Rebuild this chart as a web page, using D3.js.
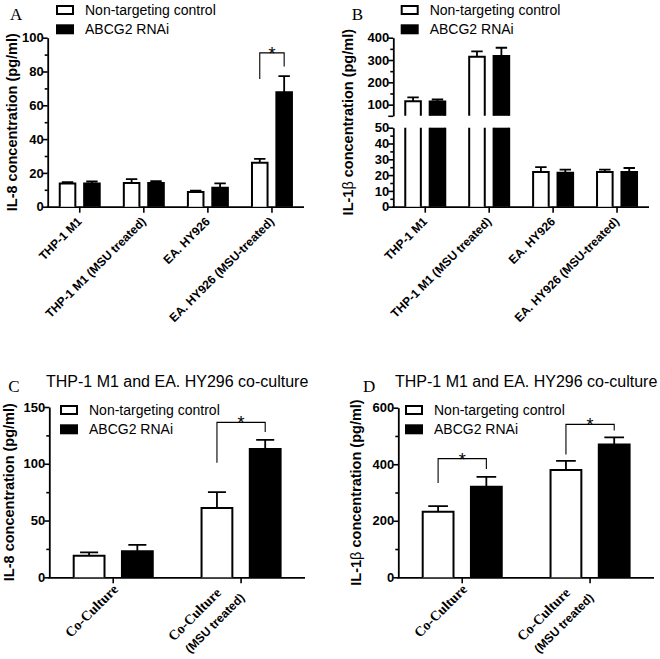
<!DOCTYPE html>
<html>
<head>
<meta charset="utf-8">
<script src="https://cdn.jsdelivr.net/npm/d3@7"></script>
<style>
  body { margin: 0; background: #fff; }
  svg { display: block; }
</style>
</head>
<body>
<svg id="chart" width="660" height="659"></svg>
<script>
// ---- data ----
const seriesNames = ['Non-targeting control', 'ABCG2 RNAi'];

// panel A : IL-8, single cultures
const catsAB = ['THP-1 M1', 'THP-1 M1 (MSU treated)', 'EA. HY926', 'EA. HY926 (MSU-treated)'];
const il8Ctrl = [13.8, 14, 8.7, 26];
const il8CtrlErr = [0.8, 2.3, 0.8, 2.3];
const il8Rnai = [13.8, 14, 11.2, 67.7];
const il8RnaiErr = [1.1, 1.1, 2.6, 9.6];
const sigA = [{cat: 3, top: 91, left: 75.5, right: 83}];

// panel B : IL-1b, single cultures (broken axis)
const il1Ctrl = [115, 315, 22, 22];
const il1CtrlErr = [18, 24, 3, 1.5];
const il1Rnai = [114, 318, 21.5, 22];
const il1RnaiErr = [9, 37, 2, 2.5];

// panels C / D : co-culture
const catsCD = [['Co-Culture'], ['Co-Culture', '(MSU treated)']];
const coIl8Ctrl = [19, 61];
const coIl8CtrlErr = [3, 14];
const coIl8Rnai = [23, 113];
const coIl8RnaiErr = [5.5, 8];
const sigC = [{cat: 1, top: 136.5, left: 101, right: 128}];

const coIl1Ctrl = [232, 380];
const coIl1CtrlErr = [20, 32];
const coIl1Rnai = [320, 470];
const coIl1RnaiErr = [35, 25];
const sigD = [{cat: 0, top: 420, left: 334, right: 383}, {cat: 1, top: 541, left: 434, right: 519}];

const coTitle = 'THP-1 M1 and EA. HY296 co-culture';

// ---- drawing ----
const SANS = '"Liberation Sans", Arial, sans-serif';
const SERIF = '"Liberation Serif", "Times New Roman", serif';
const svg = d3.select('#chart');

function drawPanel(p) {
  const g = svg.append('g');
  const labels = p.cats.map(c => Array.isArray(c) ? c.join(' ') : c);
  const x = d3.scaleBand().domain(labels).range([p.left, p.right])
    .paddingInner(p.pad).paddingOuter(p.pad / 2);
  const sub = d3.scaleBand().domain(['ctrl', 'rnai']).range([0, x.bandwidth()]).paddingInner(p.subPad);
  const bw = sub.bandwidth();

  // y segments (more than one when the axis is broken)
  const segs = p.segs.map(s => Object.assign({}, s, {
    y: d3.scaleLinear().domain(s.domain).range(s.range)
  }));
  const segFor = v => segs.find(s => v <= s.domain[1]) || segs[segs.length - 1];

  segs.forEach(s => {
    g.append('g').attr('transform', `translate(${p.left},0)`)
      .call(d3.axisLeft(s.y).tickValues(s.minor).tickSize(3).tickSizeOuter(0).tickFormat(''))
      .call(a => a.select('.domain').remove());
    const ax = g.append('g').attr('transform', `translate(${p.left},0)`)
      .call(d3.axisLeft(s.y).tickValues(s.major).tickSize(5).tickSizeOuter(0).tickPadding(-1)
        .tickFormat(d => s.hide && s.hide.includes(d) ? '' : d));
    ax.selectAll('text').style('font', `bold 13px ${SANS}`).attr('fill', '#000');
  });
  g.selectAll('.tick line').attr('stroke', '#000').attr('stroke-width', 1.6);
  g.selectAll('.domain').attr('stroke', '#000').attr('stroke-width', 1.8);

  const y0 = segs[0].range[0];
  // x axis
  const xa = g.append('g').attr('transform', `translate(0,${y0})`)
    .call(d3.axisBottom(x).tickSize(6).tickSizeOuter(0).tickFormat(''));
  xa.select('.domain').attr('stroke', '#000').attr('stroke-width', 1.8)
    .attr('d', `M${p.left - 1},0.5H${p.right}`);
  xa.selectAll('.tick line').attr('stroke', '#000').attr('stroke-width', 1.6);

  // category labels, rotated 45 degrees
  p.cats.forEach((c, i) => {
    const lines = Array.isArray(c) ? c : [c];
    const offs = p.labelOffsets[lines.length - 1];
    const lg = g.append('g')
      .attr('transform', `translate(${x(labels[i]) + x.bandwidth() / 2},${y0}) rotate(-45)`);
    lines.forEach((t, j) => {
      lg.append('text').attr('x', offs[j][0]).attr('y', offs[j][1])
        .attr('text-anchor', 'end')
        .style('font', p.labelFont(j, lines.length))
        .text(t);
    });
  });

  // bars
  const series = [
    {key: 'ctrl', vals: p.ctrl, errs: p.ctrlErr, fill: '#fff'},
    {key: 'rnai', vals: p.rnai, errs: p.rnaiErr, fill: '#000'}
  ];
  series.forEach(s => {
    s.vals.forEach((v, i) => {
      const bx = x(labels[i]) + sub(s.key);
      const x0 = bx + 1, x1 = bx + bw - 1;
      segs.forEach(seg => {
        if (v <= seg.domain[0]) return;
        const top = Math.min(v, seg.domain[1]);
        const yb = seg.y(seg.domain[0]), yt = seg.y(top);
        g.append('rect').attr('x', x0).attr('y', yt).attr('width', x1 - x0).attr('height', yb - yt)
          .attr('fill', s.fill);
        const closed = v <= seg.domain[1];
        const d = closed ? `M${x0},${yb}V${yt}H${x1}V${yb}` : `M${x0},${yb}V${yt}M${x1},${yt}V${yb}`;
        g.append('path').attr('d', d).attr('fill', 'none').attr('stroke', '#000').attr('stroke-width', 2);
      });
      // error bar, upward only
      const e = s.errs[i];
      const seg = segFor(v);
      const cx = bx + bw / 2, cap = bw * p.capRatio;
      g.append('path')
        .attr('d', `M${cx},${seg.y(v)}V${seg.y(v + e)}M${cx - cap / 2},${seg.y(v + e)}H${cx + cap / 2}`)
        .attr('fill', 'none').attr('stroke', '#000').attr('stroke-width', 1.8);
    });
  });

  // significance brackets
  (p.sig || []).forEach(b => {
    const xl = x(labels[b.cat]) + sub('ctrl') + bw / 2;
    const xr = x(labels[b.cat]) + sub('rnai') + bw / 2;
    const s = segFor(b.top);
    g.append('path')
      .attr('d', `M${xl},${s.y(b.left)}V${s.y(b.top)}H${xr}V${s.y(b.right)}`)
      .attr('fill', 'none').attr('stroke', '#000').attr('stroke-width', 1.1);
    g.append('text').attr('x', (xl + xr) / 2).attr('y', s.y(b.top) + 7)
      .attr('text-anchor', 'middle').style('font', `18px ${SANS}`).text('*');
  });

  // legend
  seriesNames.forEach((n, i) => {
    const ly = p.legend[1] + i * 19.3;
    g.append('rect').attr('x', p.legend[0] + 1).attr('y', ly + 1).attr('width', 16).attr('height', 8)
      .attr('fill', i ? '#000' : '#fff').attr('stroke', '#000').attr('stroke-width', 2);
    g.append('text').attr('x', p.legend[0] + 29).attr('y', ly + 10)
      .style('font', `14px ${SANS}`).text(n);
  });

  // y label
  const yMid = (segs[0].range[0] + segs[segs.length - 1].range[1]) / 2;
  const yl = g.append('text')
    .attr('transform', `translate(${p.yLabelX},${yMid}) rotate(-90)`)
    .attr('text-anchor', 'middle').style('font', `bold 14.5px ${SANS}`);
  if (p.beta) {
    yl.append('tspan').text('IL-1');
    yl.append('tspan').style('font-weight', 'normal').text('\u03b2');
    yl.append('tspan').text(' concentration (pg/ml)');
  } else {
    yl.text('IL-8 concentration (pg/ml)');
  }

  // panel letter and title
  g.append('text').attr('x', p.letter[1]).attr('y', p.letter[2])
    .style('font', `17px ${SERIF}`).text(p.letter[0]);
  if (p.title) {
    g.append('text').attr('x', (p.left + p.right) / 2).attr('y', p.titleY)
      .attr('text-anchor', 'middle').style('font', `16px ${SANS}`).text(p.title);
  }
}

const fontAB = () => `bold 12px ${SANS}`;
const fontCD = (j, n) => (n > 1 && j === 1) ? `bold 12px ${SANS}` : `bold 14px ${SERIF}`;

drawPanel({
  cats: catsAB, ctrl: il8Ctrl, ctrlErr: il8CtrlErr, rnai: il8Rnai, rnaiErr: il8RnaiErr, sig: sigA,
  left: 47.7, right: 304, pad: 0.345, subPad: 0.28, capRatio: 0.65,
  segs: [{domain: [0, 100], range: [206.7, 37.7], major: d3.range(0, 101, 20), minor: d3.range(10, 100, 20)}],
  labelOffsets: [[[-9, 13]]], labelFont: fontAB,
  legend: [56, 5], yLabelX: 17, letter: ['A', 10, 19.5]
});

drawPanel({
  cats: catsAB, ctrl: il1Ctrl, ctrlErr: il1CtrlErr, rnai: il1Rnai, rnaiErr: il1RnaiErr, beta: true,
  left: 393.3, right: 649, pad: 0.343, subPad: 0.28, capRatio: 0.65,
  segs: [
    {domain: [0, 50], range: [206.7, 127.7], major: d3.range(0, 51, 10), minor: d3.range(5, 50, 10)},
    {domain: [50, 400], range: [115.8, 37.7], major: [50, 100, 200, 300, 400], minor: [150, 250, 350], hide: [50]}
  ],
  labelOffsets: [[[-9, 13]]], labelFont: fontAB,
  legend: [400.7, 5], yLabelX: 353, letter: ['B', 351.7, 19.5]
});

drawPanel({
  cats: catsCD, ctrl: coIl8Ctrl, ctrlErr: coIl8CtrlErr, rnai: coIl8Rnai, rnaiErr: coIl8RnaiErr, sig: sigC,
  left: 49.3, right: 305, pad: 0.366, subPad: 0.32, capRatio: 0.55,
  segs: [{domain: [0, 150], range: [577.3, 407], major: [0, 50, 100, 150], minor: [25, 75, 125]}],
  labelOffsets: [[[-5, 13]], [[-25, -2], [-12, 18]]], labelFont: fontCD,
  legend: [60, 405], yLabelX: 14, letter: ['C', 8.3, 392], title: coTitle, titleY: 386.7
});

drawPanel({
  cats: catsCD, ctrl: coIl1Ctrl, ctrlErr: coIl1CtrlErr, rnai: coIl1Rnai, rnaiErr: coIl1RnaiErr, sig: sigD, beta: true,
  left: 398.3, right: 654, pad: 0.366, subPad: 0.32, capRatio: 0.6,
  segs: [{domain: [0, 600], range: [577.3, 407.7], major: [0, 200, 400, 600], minor: [100, 300, 500]}],
  labelOffsets: [[[-5, 13]], [[-25, -2], [-12, 18]]], labelFont: fontCD,
  legend: [405, 405], yLabelX: 361, letter: ['D', 363, 392], title: coTitle, titleY: 386.7
});
</script>
</body>
</html>
